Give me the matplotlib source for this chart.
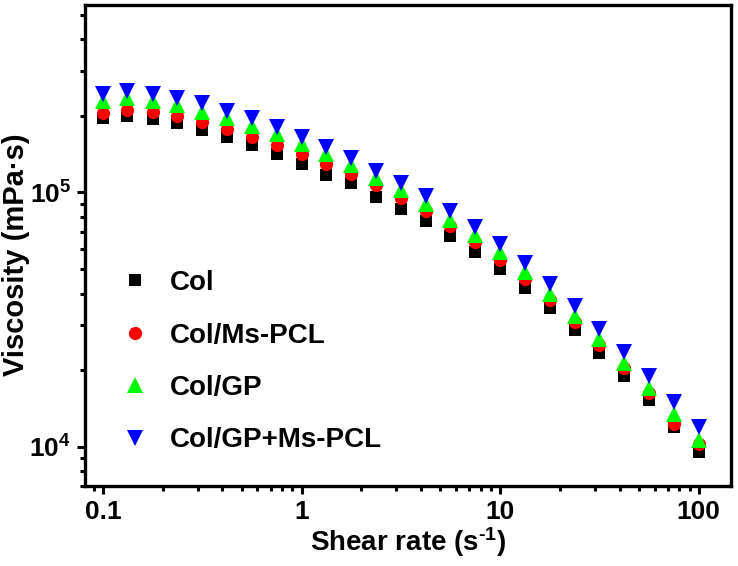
import matplotlib
matplotlib.use("Agg")
import matplotlib.pyplot as plt
from matplotlib.ticker import NullFormatter, LogLocator

plt.rcParams['font.family'] = ['Liberation Sans', 'DejaVu Sans']
plt.rcParams['font.weight'] = 'bold'
plt.rcParams['mathtext.fontset'] = 'custom'
plt.rcParams['mathtext.rm'] = 'Liberation Sans:bold'
plt.rcParams['mathtext.bf'] = 'Liberation Sans:bold'
plt.rcParams['mathtext.it'] = 'Liberation Sans:bold'
plt.rcParams['mathtext.default'] = 'bf'

# shear rate (1/s), 8 points per decade
shear_rate = [0.1, 0.133, 0.178, 0.237, 0.316, 0.422, 0.562, 0.75,
              1, 1.33, 1.78, 2.37, 3.16, 4.22, 5.62, 7.5,
              10, 13.3, 17.8, 23.7, 31.6, 42.2, 56.2, 75, 100]

# viscosity (mPa.s)
col = [1.96e5, 2.00e5, 1.95e5, 1.87e5, 1.76e5, 1.66e5, 1.54e5, 1.42e5,
       1.30e5, 1.17e5, 1.085e5, 9.62e4, 8.60e4, 7.69e4, 6.72e4, 5.81e4,
       4.98e4, 4.21e4, 3.52e4, 2.88e4, 2.33e4, 1.89e4, 1.53e4, 1.19e4, 9.5e3]
col_ms = [2.06e5, 2.12e5, 2.08e5, 2.00e5, 1.90e5, 1.77e5, 1.66e5, 1.54e5,
          1.42e5, 1.30e5, 1.18e5, 1.07e5, 9.5e4, 8.42e4, 7.35e4, 6.36e4,
          5.44e4, 4.57e4, 3.76e4, 3.08e4, 2.52e4, 2.03e4, 1.63e4, 1.23e4, 1.02e4]
col_gp = [2.28e5, 2.35e5, 2.30e5, 2.21e5, 2.08e5, 1.96e5, 1.83e5, 1.70e5,
          1.55e5, 1.42e5, 1.28e5, 1.145e5, 1.025e5, 9.03e4, 7.81e4, 6.80e4,
          5.81e4, 4.88e4, 4.00e4, 3.26e4, 2.64e4, 2.14e4, 1.70e4, 1.35e4, 1.06e4]
col_gp_ms = [2.43e5, 2.51e5, 2.45e5, 2.36e5, 2.24e5, 2.10e5, 1.96e5, 1.81e5,
             1.65e5, 1.51e5, 1.37e5, 1.22e5, 1.09e5, 9.7e4, 8.42e4, 7.33e4,
             6.26e4, 5.26e4, 4.35e4, 3.58e4, 2.90e4, 2.35e4, 1.89e4, 1.50e4, 1.20e4]

names = ["Col", "Col/Ms-PCL", "Col/GP", "Col/GP+Ms-PCL"]
series = [col, col_ms, col_gp, col_gp_ms]
styles = [("s", "#000000", 8), ("o", "#ff0000", 9.5),
          ("^", "#00ff00", 11), ("v", "#0000ff", 11)]

fig = plt.figure(figsize=(7.38, 5.66), dpi=100)
ax = fig.add_axes([0.1148, 0.1413, 0.8754, 0.8504])

for name, vals, (mk, c, ms) in zip(names, series, styles):
    ax.plot(shear_rate, vals, linestyle="none", marker=mk, color=c,
            markersize=ms, markeredgewidth=0, label=name)

ax.set_xscale("log")
ax.set_yscale("log")
ax.set_xlim(0.081, 145)
ax.set_ylim(7.0e3, 5.48e5)

ax.set_xticks([0.1, 1, 10, 100])
ax.set_xticklabels(["0.1", "1", "10", "100"])
ax.xaxis.set_minor_locator(LogLocator(base=10, subs=range(2, 10)))
ax.xaxis.set_minor_formatter(NullFormatter())
ax.set_yticks([1e4, 1e5])
ax.yaxis.set_minor_locator(LogLocator(base=10, subs=range(2, 10)))
ax.yaxis.set_minor_formatter(NullFormatter())

ax.tick_params(which="major", direction="out", length=6, width=2.2,
               labelsize=19, pad=4)
ax.tick_params(which="minor", direction="out", length=3.5, width=2.2)
for s in ax.spines.values():
    s.set_linewidth(2.4)

ax.set_xlabel(r"Shear rate (s$^{\text{-1}}$)", fontsize=20, fontweight="bold", labelpad=1)
ax.set_ylabel("Viscosity (mPa·s)", fontsize=21, fontweight="bold")
ax.yaxis.set_label_coords(-0.085, 0.48)

ax.legend(loc="lower left", bbox_to_anchor=(0.056, 0.068), frameon=False,
          fontsize=20, handlelength=1.0, handletextpad=0.75,
          labelspacing=0.95, borderpad=0, borderaxespad=0)

fig.savefig("out.png", dpi=100)
